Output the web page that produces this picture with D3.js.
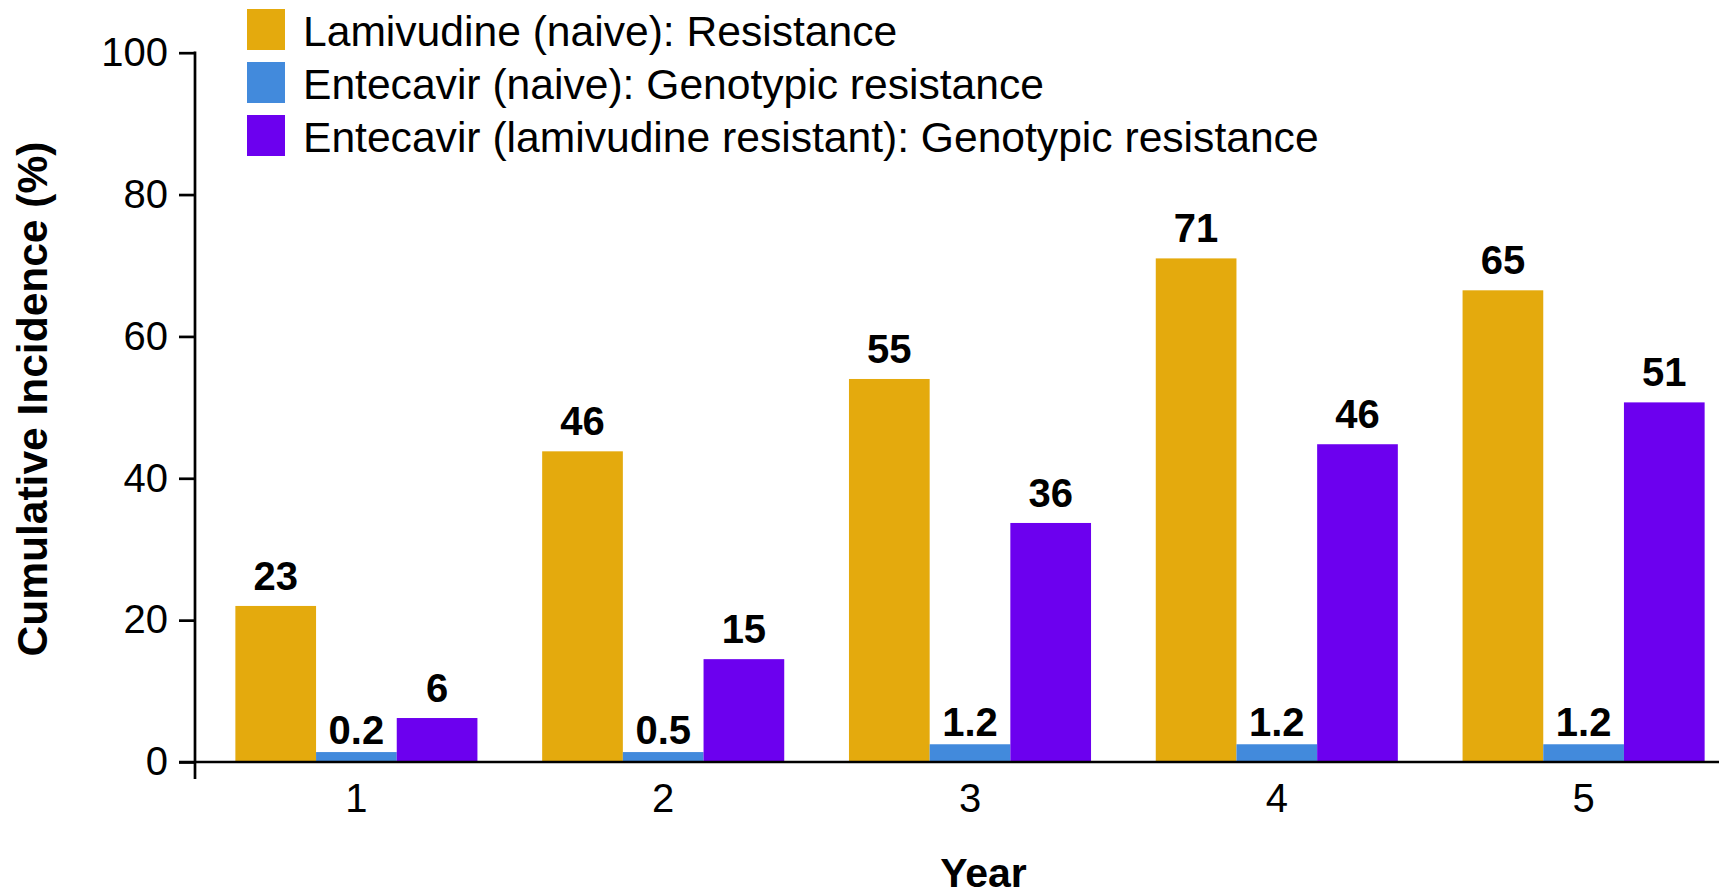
<!DOCTYPE html>
<html>
<head>
<meta charset="utf-8">
<script src="https://cdn.jsdelivr.net/npm/d3@7"></script>
<style>
  body { margin: 0; background: #fff; }
  text { font-family: "Liberation Sans", Arial, sans-serif; }
</style>
</head>
<body>
<script>
// data
var years = ['1', '2', '3', '4', '5'];
var seriesNames = [
  'Lamivudine (naive): Resistance',
  'Entecavir (naive): Genotypic resistance',
  'Entecavir (lamivudine resistant): Genotypic resistance'
];
var colors = ['#e4aa0d', '#428adc', '#6c00ef'];
// bar heights as drawn
var lamivudine = [22, 43.8, 54, 71, 66.5];
var entecavirNaive = [1.4, 1.4, 2.5, 2.5, 2.5];
var entecavirLamR = [6.2, 14.5, 33.7, 44.8, 50.7];
// printed labels
var lamivudineLabels = ['23', '46', '55', '71', '65'];
var entecavirNaiveLabels = ['0.2', '0.5', '1.2', '1.2', '1.2'];
var entecavirLamRLabels = ['6', '15', '36', '46', '51'];
var yTicks = [0, 20, 40, 60, 80, 100];

var values = [lamivudine, entecavirNaive, entecavirLamR];
var labels = [lamivudineLabels, entecavirNaiveLabels, entecavirLamRLabels];

var W = 1719, H = 895;
var svg = d3.select('body').append('svg')
  .attr('width', W)
  .attr('height', H);

var y = d3.scaleLinear().domain([0, 100]).range([762, 52.7]);
var x = d3.scaleBand().domain(years)
  .range([203, 1737])
  .paddingInner(0.211)
  .paddingOuter(0.1055);
var xs = d3.scaleBand().domain([0, 1, 2]).range([0, x.bandwidth()]);

// flat list of bars
var bars = [];
years.forEach(function(yr, i) {
  values.forEach(function(v, s) {
    bars.push({year: yr, s: s, v: v[i], label: labels[s][i]});
  });
});

svg.selectAll('.bar')
  .data(bars)
  .enter()
  .append('rect')
  .classed('bar', true)
  .attr('x', function(d) { return x(d.year) + xs(d.s); })
  .attr('width', xs.bandwidth())
  .attr('y', function(d) { return y(d.v); })
  .attr('height', function(d) { return y(0) - y(d.v); })
  .style('fill', function(d) { return colors[d.s]; });

svg.selectAll('.lbl')
  .data(bars)
  .enter()
  .append('text')
  .classed('lbl', true)
  .attr('x', function(d) { return x(d.year) + xs(d.s) + xs.bandwidth() / 2; })
  .attr('y', function(d) { return y(d.v) - (d.s === 1 ? 8 : 16); })
  .attr('text-anchor', 'middle')
  .style('font-size', '40px')
  .style('font-weight', 'bold')
  .text(function(d) { return d.label; });

// y axis
var yAxis = svg.append('g')
  .attr('transform', 'translate(195,0)')
  .call(d3.axisLeft(y).tickValues(yTicks).tickSize(16).tickPadding(11));
yAxis.select('.domain').remove();
yAxis.selectAll('line').attr('stroke-width', 2.7);
yAxis.selectAll('text').style('font-size', '40px').attr('fill', '#000')
  .style('font-family', '"Liberation Sans", Arial, sans-serif');
svg.append('line')
  .attr('x1', 195).attr('x2', 195)
  .attr('y1', y(100) - 1.3).attr('y2', y(0) + 17)
  .attr('stroke', '#000').attr('stroke-width', 2.7);

// x axis
var xAxis = svg.append('g')
  .attr('transform', 'translate(0,' + y(0) + ')')
  .call(d3.axisBottom(x).tickSize(0).tickPadding(21.6));
xAxis.select('.domain').remove();
xAxis.selectAll('text').style('font-size', '40px').attr('fill', '#000')
  .style('font-family', '"Liberation Sans", Arial, sans-serif');
svg.append('line')
  .attr('x1', 179).attr('x2', W)
  .attr('y1', y(0)).attr('y2', y(0))
  .attr('stroke', '#000').attr('stroke-width', 2.7);

// axis titles
svg.append('text')
  .attr('transform', 'translate(47,399) rotate(-90)')
  .attr('text-anchor', 'middle')
  .style('font-size', '42.5px')
  .style('font-weight', 'bold')
  .text('Cumulative Incidence (%)');

svg.append('text')
  .attr('x', 983.5)
  .attr('y', 887)
  .attr('text-anchor', 'middle')
  .style('font-size', '41px')
  .style('font-weight', 'bold')
  .text('Year');

// legend
var legend = svg.selectAll('.leg')
  .data(seriesNames)
  .enter()
  .append('g')
  .classed('leg', true)
  .attr('transform', function(d, i) { return 'translate(247,' + (9 + i * 53) + ')'; });
legend.append('rect')
  .attr('width', 38)
  .attr('height', 41)
  .style('fill', function(d, i) { return colors[i]; });
legend.append('text')
  .attr('x', 56)
  .attr('y', 36.5)
  .style('font-size', '42.6px')
  .text(function(d) { return d; });
</script>
</body>
</html>
